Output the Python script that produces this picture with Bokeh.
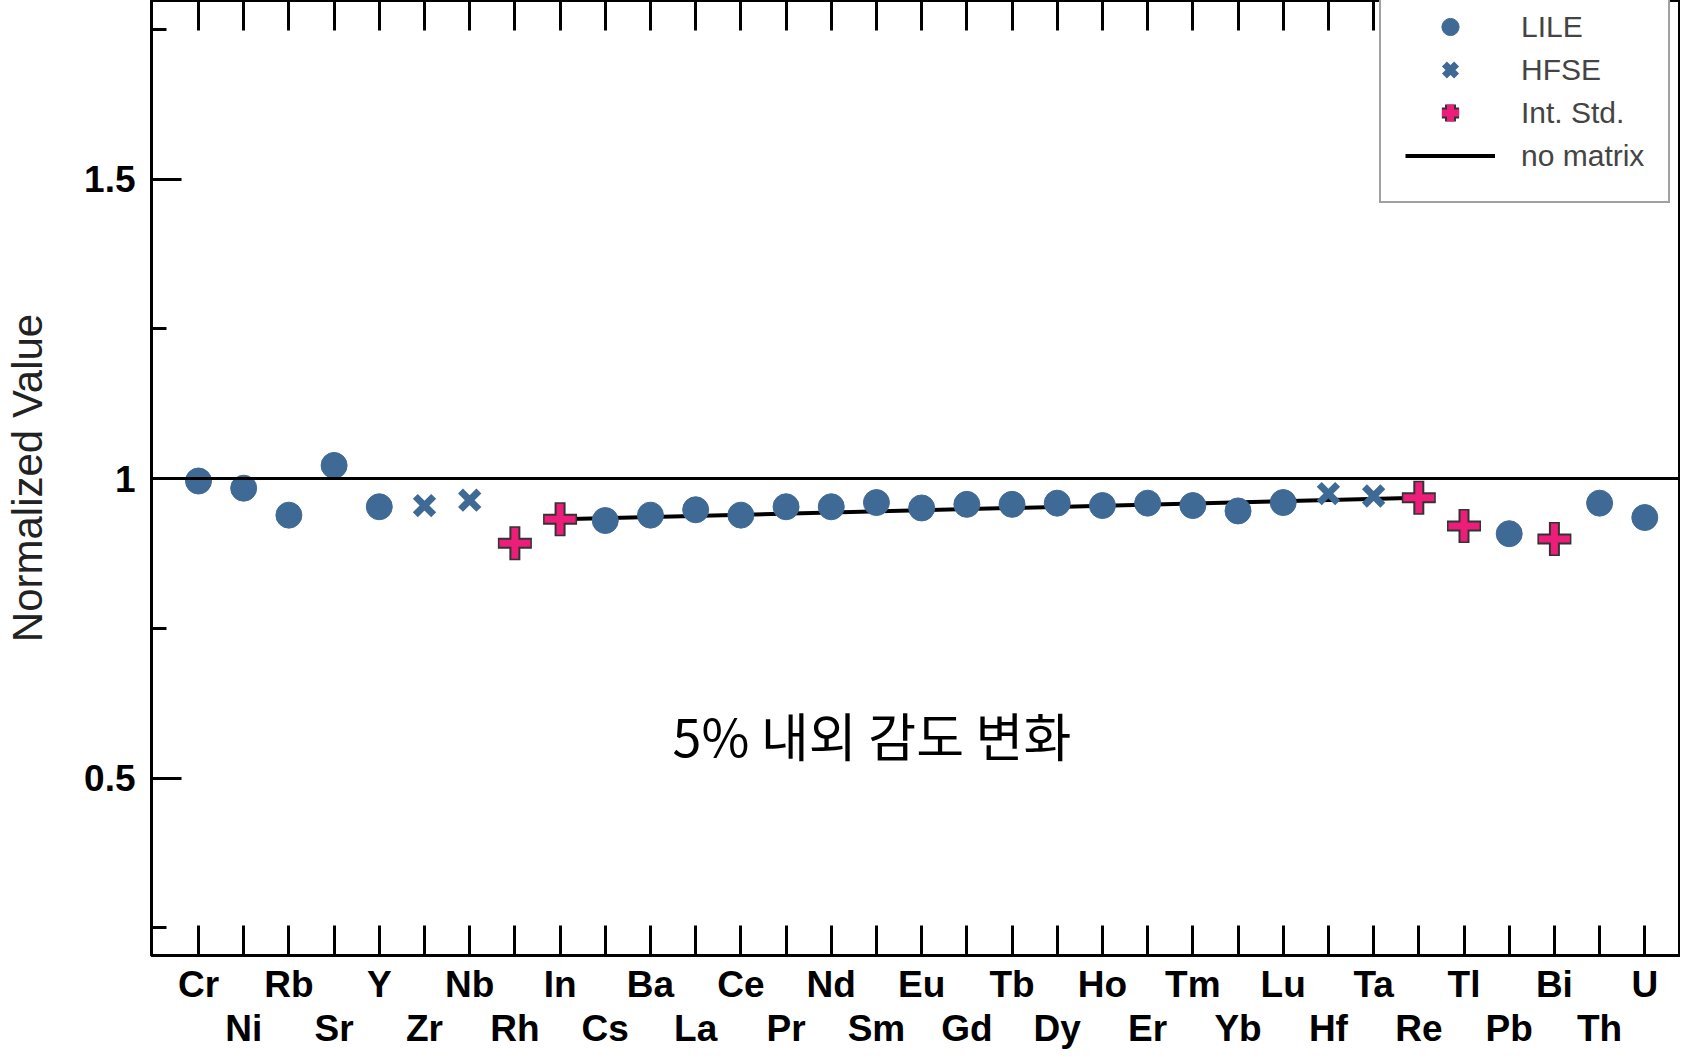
from bokeh.core.properties import value
from bokeh.embed import file_html
from bokeh.models import (FixedTicker, Legend, LegendItem, LinearAxis,
                          Range1d, Span)
from bokeh.plotting import figure
from bokeh.resources import INLINE

# Elements along the x axis
elements = ["Cr", "Ni", "Rb", "Sr", "Y", "Zr", "Nb", "Rh", "In", "Cs", "Ba",
            "La", "Ce", "Pr", "Nd", "Sm", "Eu", "Gd", "Tb", "Dy", "Ho", "Er",
            "Tm", "Yb", "Lu", "Hf", "Ta", "Re", "Tl", "Pb", "Bi", "Th", "U"]

lile = ["Cr", "Ni", "Rb", "Sr", "Y", "Cs", "Ba", "La", "Ce", "Pr", "Nd", "Sm",
        "Eu", "Gd", "Tb", "Dy", "Ho", "Er", "Tm", "Yb", "Lu", "Pb", "Th", "U"]
lile_val = [0.996, 0.984, 0.939, 1.022, 0.953, 0.930, 0.939, 0.948, 0.939,
            0.953, 0.953, 0.960, 0.951, 0.957, 0.957, 0.959, 0.955, 0.959,
            0.955, 0.946, 0.960, 0.908, 0.959, 0.935]

hfse = ["Zr", "Nb", "Hf", "Ta"]
hfse_val = [0.955, 0.964, 0.975, 0.971]

int_std = ["Rh", "In", "Re", "Tl", "Bi"]
int_std_val = [0.892, 0.932, 0.968, 0.921, 0.899]

no_matrix = ["In", "Re"]
no_matrix_val = [0.932, 0.968]

idx = {e: i for i, e in enumerate(elements)}

BLUE = "#3F6A95"
PINK = "#EC1E79"
FONT = "Liberation Sans"

p = figure(width=1680, height=1051, output_backend="svg", toolbar_location=None,
           x_range=Range1d(-1.04, 32.79), y_range=Range1d(0.204, 1.798),
           min_border_left=151, min_border_right=0, min_border_top=0,
           min_border_bottom=0, x_axis_location=None, y_axis_location=None)
p.grid.grid_line_color = None
p.outline_line_color = "black"
p.outline_line_width = 3

# y axis
yax = LinearAxis(ticker=FixedTicker(ticks=[0.5, 1, 1.5],
                                    minor_ticks=[0.25, 0.75, 1.25, 1.75]),
                 major_label_overrides={0.5: "0.5", 1: "1", 1.5: "1.5"})
yax.axis_line_width = 3
yax.major_tick_in = 30
yax.major_tick_out = 0
yax.minor_tick_in = 15
yax.minor_tick_out = 0
yax.major_tick_line_width = 3
yax.minor_tick_line_width = 3
yax.major_label_text_font = FONT
yax.major_label_text_font_style = "bold"
yax.major_label_text_font_size = "37px"
yax.major_label_text_color = "black"
yax.major_label_standoff = 16
yax.axis_label = "Normalized Value"
yax.axis_label_text_font = FONT
yax.axis_label_text_font_style = "normal"
yax.axis_label_text_font_size = "42px"
yax.axis_label_text_color = "#222222"
yax.axis_label_standoff = 30
p.add_layout(yax, "left")

# x axes: labels alternate in two rows
ticks = list(range(len(elements)))
row1 = {i: (e if i % 2 == 0 else "") for i, e in enumerate(elements)}
row2 = {i: (e if i % 2 == 1 else "") for i, e in enumerate(elements)}

xax = LinearAxis(ticker=FixedTicker(ticks=ticks, minor_ticks=[]),
                 major_label_overrides=row1)
xax.axis_line_width = 3
xax.major_tick_in = 30
xax.major_tick_out = 0
xax.major_tick_line_width = 3
xax.major_label_text_font = FONT
xax.major_label_text_font_style = "bold"
xax.major_label_text_font_size = "37px"
xax.major_label_text_color = "black"
xax.major_label_standoff = 8
p.add_layout(xax, "below")

xax2 = LinearAxis(ticker=FixedTicker(ticks=ticks, minor_ticks=[]),
                  major_label_overrides=row2)
xax2.axis_line_color = None
xax2.major_tick_line_color = None
xax2.major_tick_in = 0
xax2.major_tick_out = 0
xax2.major_label_text_font = FONT
xax2.major_label_text_font_style = "bold"
xax2.major_label_text_font_size = "37px"
xax2.major_label_text_color = "black"
xax2.major_label_standoff = 0
p.add_layout(xax2, "below")

tax = LinearAxis(ticker=FixedTicker(ticks=ticks, minor_ticks=[]),
                 major_label_text_font_size="0px")
tax.axis_line_width = 3
tax.major_tick_in = 30
tax.major_tick_out = 0
tax.major_tick_line_width = 3
tax.major_label_standoff = 0
p.add_layout(tax, "above")

# reference line at 1
p.add_layout(Span(location=1.0, dimension="width", line_color="black",
                  line_width=3))

nm = p.line([idx[e] for e in no_matrix], no_matrix_val, line_color="black",
            line_width=4)

lile_r = p.scatter([idx[e] for e in lile], lile_val, marker="circle", size=26,
                   fill_color=BLUE, line_color=BLUE)
hfse_r = p.scatter([idx[e] for e in hfse], hfse_val, marker="x", size=26,
                   line_color=BLUE, line_width=7)
xs = [idx[e] for e in int_std]
std_a = p.scatter(xs, int_std_val, marker="cross", size=34,
                  line_color="#333333", line_width=11)
std_b = p.scatter(xs, int_std_val, marker="cross", size=31,
                  line_color=PINK, line_width=7)

p.text(x=[14.9], y=[0.573], text=["5% 내외 감도 변화"],
       text_font=value("Noto Sans CJK KR"), text_font_size="52px",
       text_align="center", text_baseline="middle", text_color="black")

legend = Legend(items=[
    LegendItem(label="LILE", renderers=[lile_r]),
    LegendItem(label="HFSE", renderers=[hfse_r]),
    LegendItem(label="Int. Std.", renderers=[std_a, std_b]),
    LegendItem(label="no matrix", renderers=[nm]),
], location=(1228, 752))
legend.label_text_font = FONT
legend.label_text_font_size = "30px"
legend.glyph_width = 90
legend.glyph_height = 43
legend.label_standoff = 26
legend.label_height = 43
legend.spacing = 0
legend.padding = 24
legend.margin = 0
legend.border_line_color = "#444444"
legend.border_line_width = 2
legend.background_fill_color = "white"
legend.background_fill_alpha = 1
p.add_layout(legend)

open("out.html", "w").write(file_html(p, INLINE))
